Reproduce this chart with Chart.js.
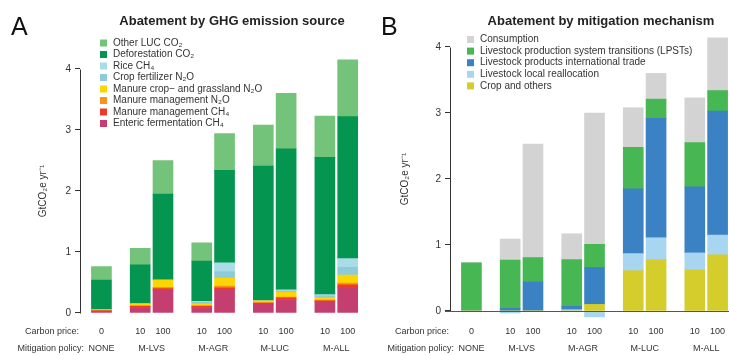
<!DOCTYPE html>
<html>
<head>
<meta charset="utf-8">
<script src="https://cdn.jsdelivr.net/npm/chart.js@4.4.1/dist/chart.umd.min.js"></script>
<style>
  body { margin: 0; background: #fff; }
  .painel { position: absolute; top: 0; }
</style>
</head>
<body>
<div class="painel" style="left:0"><canvas id="grafico-a" width="365" height="355"></canvas></div>
<div class="painel" style="left:370px"><canvas id="grafico-b" width="359" height="355"></canvas></div>
<script>
Chart.defaults.font.family = '"Liberation Sans", Arial, sans-serif';
Chart.defaults.color = '#333';

// bars: mitigation policy and carbon price
const policies = ['NONE', 'M-LVS', 'M-LVS', 'M-AGR', 'M-AGR', 'M-LUC', 'M-LUC', 'M-ALL', 'M-ALL'];
const carbonPrices = ['0', '10', '100', '10', '100', '10', '100', '10', '100'];
const yTicks = [0, 1, 2, 3, 4];

// A - abatement by GHG emission source (GtCO2e/yr), bottom to top
const entericCH4 = [0.02, 0.09, 0.37, 0.09, 0.37, 0.14, 0.22, 0.18, 0.41];
const manureMgmtCH4 = [0.015, 0.02, 0.03, 0.02, 0.04, 0.02, 0.03, 0.02, 0.05];
const manureMgmtN2O = [0.01, 0.01, 0.02, 0.01, 0.03, 0.01, 0.01, 0.01, 0.03];
const manureCropGrassN2O = [0.005, 0.03, 0.12, 0.03, 0.13, 0.03, 0.08, 0.04, 0.13];
const cropFertN2O = [0, 0, 0, 0.03, 0.11, 0, 0.02, 0.03, 0.13];
const riceCH4 = [0, 0, 0, 0.01, 0.14, 0, 0.02, 0.02, 0.14];
const deforestationCO2 = [0.49, 0.64, 1.41, 0.66, 1.52, 2.21, 2.31, 2.25, 2.33];
const otherLucCO2 = [0.22, 0.27, 0.55, 0.30, 0.60, 0.67, 0.91, 0.68, 0.93];

// B - abatement by mitigation mechanism, bottom to top
const cropOthers = [0, 0, 0, 0, 0.10, 0.61, 0.78, 0.62, 0.85];
const localRealloc = [0, -0.03, 0, 0.02, -0.09, 0.26, 0.33, 0.26, 0.30];
const intlTrade = [0, 0.04, 0.44, 0.05, 0.56, 0.98, 1.81, 1.00, 1.88];
const lpst = [0.73, 0.73, 0.37, 0.71, 0.35, 0.63, 0.29, 0.67, 0.31];
const consumption = [0, 0.32, 1.72, 0.39, 1.99, 0.60, 0.39, 0.68, 0.80];

// posição x de cada barra: pares lado a lado, espaço maior entre políticas
const barX = [];
policies.forEach((p, i) => {
    barX.push(i === 0 ? 0 : barX[i - 1] + (p === policies[i - 1] ? 1 : 1.7));
});

function serie(label, values, color) {
    return {
        label: label,
        data: values.map((v, i) => ({ x: barX[i], y: v })),
        backgroundColor: color,
        borderWidth: 0,
        barThickness: 20
    };
}

// desenha título, legenda, eixo e rótulos de cada painel
function painelPlugin(cfg) {
    return {
        id: 'painel' + cfg.letter,
        afterDatasetsDraw(chart) {
            const ctx = chart.ctx;
            const area = chart.chartArea;
            const xs = chart.scales.x;
            const ys = chart.scales.y;
            const font = '"Liberation Sans", Arial, sans-serif';
            ctx.save();

            // linha do eixo y só de 0 a 4
            const ax = Math.round(area.left) + 0.5;
            ctx.strokeStyle = '#333';
            ctx.lineWidth = 1;
            ctx.beginPath();
            ctx.moveTo(ax, Math.round(ys.getPixelForValue(4)) + 0.5);
            ctx.lineTo(ax, Math.round(ys.getPixelForValue(0)) + 0.5);
            ctx.stroke();

            if (cfg.zeroLine) {
                const zy = Math.round(ys.getPixelForValue(0)) + 0.5;
                ctx.strokeStyle = '#555';
                ctx.beginPath();
                ctx.moveTo(area.left - 5, zy);
                ctx.lineTo(chart.width, zy);
                ctx.stroke();
            }

            // letra do painel e título
            ctx.fillStyle = '#111';
            ctx.textBaseline = 'alphabetic';
            ctx.textAlign = 'left';
            ctx.font = '25px ' + font;
            ctx.fillText(cfg.letter, cfg.letterX, 35);
            ctx.textAlign = 'center';
            ctx.textBaseline = 'middle';
            ctx.font = 'bold 13px ' + font;
            ctx.fillStyle = '#222';
            ctx.fillText(cfg.title, cfg.titleX, 21);

            // legenda (ordem inversa da pilha)
            ctx.font = '10px ' + font;
            ctx.textAlign = 'left';
            ctx.fillStyle = '#333';
            chart.data.datasets.slice().reverse().forEach((ds, i) => {
                const ly = cfg.legendY + i * cfg.legendStep;
                ctx.fillStyle = ds.backgroundColor;
                ctx.fillRect(cfg.legendX, ly - 3.5, 7, 7);
                ctx.fillStyle = '#333';
                ctx.fillText(ds.label, cfg.legendX + 13, ly);
            });

            // título do eixo y
            ctx.save();
            ctx.translate(cfg.yTitleX, ys.getPixelForValue(2));
            ctx.rotate(-Math.PI / 2);
            ctx.textAlign = 'center';
            ctx.font = '10px ' + font;
            ctx.fillText('GtCO\u2082e yr\u207B\u00B9', 0, 0);
            ctx.restore();

            // rótulos do eixo x: preço do carbono e política
            ctx.font = '9px ' + font;
            ctx.fillStyle = '#333';
            ctx.textAlign = 'right';
            ctx.fillText('Carbon price:', 79, 332);
            ctx.fillText('Mitigation policy:', 84, 349);
            ctx.textAlign = 'center';
            barX.forEach((bx, i) => {
                ctx.fillText(carbonPrices[i], xs.getPixelForValue(bx), 332);
            });
            const grupos = {};
            policies.forEach((p, i) => {
                (grupos[p] = grupos[p] || []).push(xs.getPixelForValue(barX[i]));
            });
            Object.keys(grupos).forEach(p => {
                const px = grupos[p].reduce((a, b) => a + b, 0) / grupos[p].length;
                ctx.fillText(p, px, 349);
            });
            ctx.restore();
        }
    };
}

function opcoes(yMin, yMax, padTop, padBottom, padRight, xMax) {
    return {
        responsive: false,
        animation: false,
        layout: { padding: { left: 0, right: padRight, top: padTop, bottom: padBottom } },
        plugins: { legend: { display: false }, tooltip: { enabled: false } },
        scales: {
            x: {
                type: 'linear', stacked: true, display: false, offset: false,
                grid: { offset: false }, min: -0.94, max: xMax
            },
            y: {
                stacked: true,
                min: yMin,
                max: yMax,
                afterBuildTicks: (s) => { s.ticks = yTicks.map(v => ({ value: v })); },
                afterFit: (s) => { s.width = 80; },
                grid: { drawOnChartArea: false, color: '#333', tickLength: 5 },
                border: { display: false },
                ticks: { font: { size: 10 }, color: '#333', padding: 4 }
            }
        }
    };
}

// Gráfico A
const chartA = new Chart(document.getElementById('grafico-a').getContext('2d'), {
    type: 'bar',
    data: {
        datasets: [
            serie('Enteric fermentation CH\u2084', entericCH4, '#c43f6f'),
            serie('Manure management CH\u2084', manureMgmtCH4, '#ee3a2c'),
            serie('Manure management N\u2082O', manureMgmtN2O, '#f7941d'),
            serie('Manure crop\u2212 and grassland N\u2082O', manureCropGrassN2O, '#fdd500'),
            serie('Crop fertilizer N\u2082O', cropFertN2O, '#8ccbd7'),
            serie('Rice CH\u2084', riceCH4, '#a9dce7'),
            serie('Deforestation CO\u2082', deforestationCO2, '#049650'),
            serie('Other LUC CO\u2082', otherLucCO2, '#74c37a')
        ]
    },
    options: opcoes(-0.04, 4.3, 50.7, 39.6, 5, 11.34),
    plugins: [painelPlugin({
        letter: 'A', letterX: 11, title: 'Abatement by GHG emission source', titleX: 232,
        legendX: 100, legendY: 43, legendStep: 11.5, yTitleX: 43
    })]
});

// Gráfico B
const chartB = new Chart(document.getElementById('grafico-b').getContext('2d'), {
    type: 'bar',
    data: {
        datasets: [
            serie('Crop and others', cropOthers, '#d4cd2c'),
            serie('Livestock local reallocation', localRealloc, '#a8d5ef'),
            serie('Livestock products international trade', intlTrade, '#3a82c4'),
            serie('Livestock production system transitions (LPSTs)', lpst, '#46b752'),
            serie('Consumption', consumption, '#d3d3d3')
        ]
    },
    options: opcoes(-0.12, 4.35, 23.9, 36.1, 0, 11.3),
    plugins: [painelPlugin({
        letter: 'B', letterX: 11, title: 'Abatement by mitigation mechanism', titleX: 231,
        legendX: 97, legendY: 39.5, legendStep: 11.6, yTitleX: 35, zeroLine: true
    })]
});
</script>
</body>
</html>
